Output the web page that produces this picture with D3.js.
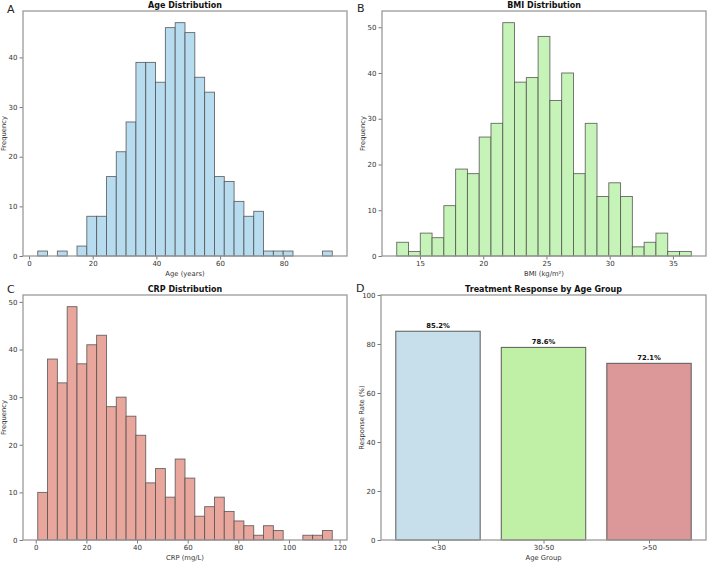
<!DOCTYPE html>
<html><head><meta charset="utf-8">
<script src="https://cdn.jsdelivr.net/npm/d3@7"></script>
<style>
body{margin:0;background:#fff;}
svg{display:block;font-family:"DejaVu Sans",sans-serif;}
</style></head><body>
<svg id="chart" width="708" height="563"></svg>
<script>
// ---- Data ----
const ageRange = [2.73, 95.26];
const ageCounts = [1,0,1,0,2,8,8,16,21,27,39,39,35,46,47,45,36,33,16,15,11,8,9,1,1,1,0,0,0,1];
const ageTicks = [0,20,40,60,80];
const ageYTicks = [0,10,20,30,40];

const bmiRange = [13.16, 36.45];
const bmiCounts = [3,1,5,4,11,19,18,26,29,51,38,39,48,34,40,18,29,13,16,13,2,3,5,1,1];
const bmiTicks = [15,20,25,30,35];
const bmiYTicks = [0,10,20,30,40,50];

const crpRange = [0.79, 117.1];
const crpCounts = [10,38,33,49,37,41,43,28,30,26,22,12,15,9,17,13,5,7,9,6,4,3,1,3,2,0,0,1,1,2];
const crpTicks = [0,20,40,60,80,100,120];
const crpYTicks = [0,10,20,30,40,50];

const groups = ["<30","30-50",">50"];
const responseRates = [85.2,78.6,72.1];
const respYTicks = [0,20,40,60,80,100];

const svg = d3.select("#chart");
const tickColor = "#333";
const spineColor = "#9a9a9a";

function styleAxis(a){
  a.select(".domain").remove();
  a.selectAll("line").attr("stroke","#555").attr("stroke-width",0.8);
  a.selectAll("text").attr("fill",tickColor).attr("font-size",7).attr("font-family","DejaVu Sans");
}

function frame(g, x, y, box, xTicks, yTicks) {
  const xa = g.append("g").attr("transform",`translate(0,${box.b})`)
    .call(d3.axisBottom(x).tickValues(xTicks).tickSize(3.5).tickPadding(2).tickFormat(d3.format("d")));
  const ya = g.append("g").attr("transform",`translate(${box.l},0)`)
    .call(d3.axisLeft(y).tickValues(yTicks).tickSize(3.5).tickPadding(2).tickFormat(d3.format("d")));
  styleAxis(xa); styleAxis(ya);
  g.append("rect").attr("x",box.l).attr("y",box.t).attr("width",box.r-box.l).attr("height",box.b-box.t)
    .attr("fill","none").attr("stroke",spineColor).attr("stroke-width",1.3);
}

function labels(g, box, letter, title, xl, yl) {
  g.append("text").attr("x",box.lx).attr("y",box.ly).attr("font-size",11).attr("fill","#222").text(letter);
  g.append("text").attr("x",(box.l+box.r)/2).attr("y",box.t-3.5).attr("text-anchor","middle")
    .attr("font-size",8).attr("font-weight","bold").attr("fill","#111").text(title);
  g.append("text").attr("x",(box.l+box.r)/2).attr("y",box.b+19.5).attr("text-anchor","middle")
    .attr("font-size",6.8).attr("fill","#333").text(xl);
  g.append("text").attr("transform",`translate(${box.l-17.5},${(box.t+box.b)/2}) rotate(-90)`)
    .attr("text-anchor","middle").attr("font-size",6.8).attr("fill","#333").text(yl);
}

function hist(box, range, counts, xTicks, yTicks, fill, letter, title, xl) {
  const n = counts.length, w = (range[1]-range[0])/n, span = range[1]-range[0];
  const x = d3.scaleLinear().domain([range[0]-0.05*span, range[1]+0.05*span]).range([box.l, box.r]);
  const y = d3.scaleLinear().domain([0, d3.max(counts)*1.05]).range([box.b, box.t]);
  const g = svg.append("g");
  g.selectAll("rect.bar").data(counts).join("rect").attr("class","bar")
    .attr("x",(d,i)=>x(range[0]+i*w)).attr("width",(d,i)=>x(range[0]+(i+1)*w)-x(range[0]+i*w))
    .attr("y",d=>y(d)).attr("height",d=>y(0)-y(d))
    .attr("fill",fill).attr("stroke","#505050").attr("stroke-opacity",0.85).attr("stroke-width",0.9);
  frame(g, x, y, box, xTicks, yTicks);
  labels(g, box, letter, title, xl, "Frequency");
}

hist({l:23,r:347,t:11,b:256,lx:7,ly:13}, ageRange, ageCounts, ageTicks, ageYTicks, "#b7dcef", "A", "Age Distribution", "Age (years)");
hist({l:382,r:706,t:11,b:256,lx:357,ly:12}, bmiRange, bmiCounts, bmiTicks, bmiYTicks, "#c6f3b7", "B", "BMI Distribution", "BMI (kg/m²)");
hist({l:23,r:347,t:295,b:540,lx:7,ly:293}, crpRange, crpCounts, crpTicks, crpYTicks, "#e9a69c", "C", "CRP Distribution", "CRP (mg/L)");

// Panel D
(function(){
  const box = {l:381,r:706,t:295,b:540,lx:356,ly:292};
  const barW = 0.8;
  const x = d3.scaleLinear().domain([-barW/2-0.07*(groups.length-1+barW)/1.4, groups.length-1+barW/2+0.07*(groups.length-1+barW)/1.4]).range([box.l, box.r]);
  const y = d3.scaleLinear().domain([0,100]).range([box.b, box.t]);
  const colors = ["#c6dfea","#bff0a6","#dc9898"];
  const g = svg.append("g");
  g.selectAll("rect.bar").data(responseRates).join("rect").attr("class","bar")
    .attr("x",(d,i)=>x(i-barW/2)).attr("width",(d,i)=>x(i+barW/2)-x(i-barW/2))
    .attr("y",d=>y(d)).attr("height",d=>y(0)-y(d))
    .attr("fill",(d,i)=>colors[i]).attr("stroke","#505050").attr("stroke-opacity",0.85).attr("stroke-width",1.1);
  g.selectAll("text.val").data(responseRates).join("text").attr("class","val")
    .attr("x",(d,i)=>x(i)).attr("y",d=>y(d)-3)
    .attr("text-anchor","middle").attr("font-size",6.8).attr("font-weight","bold").attr("fill","#111")
    .text(d=>d.toFixed(1)+"%");
  const xa = g.append("g").attr("transform",`translate(0,${box.b})`)
    .call(d3.axisBottom(x).tickValues(d3.range(groups.length)).tickFormat(i=>groups[i]).tickSize(3.5).tickPadding(2));
  const ya = g.append("g").attr("transform",`translate(${box.l},0)`)
    .call(d3.axisLeft(y).tickValues(respYTicks).tickSize(3.5).tickPadding(2).tickFormat(d3.format("d")));
  styleAxis(xa); styleAxis(ya);
  g.append("rect").attr("x",box.l).attr("y",box.t).attr("width",box.r-box.l).attr("height",box.b-box.t)
    .attr("fill","none").attr("stroke",spineColor).attr("stroke-width",1.3);
  labels(g, box, "D", "Treatment Response by Age Group", "Age Group", "Response Rate (%)");
})();
</script></body></html>
